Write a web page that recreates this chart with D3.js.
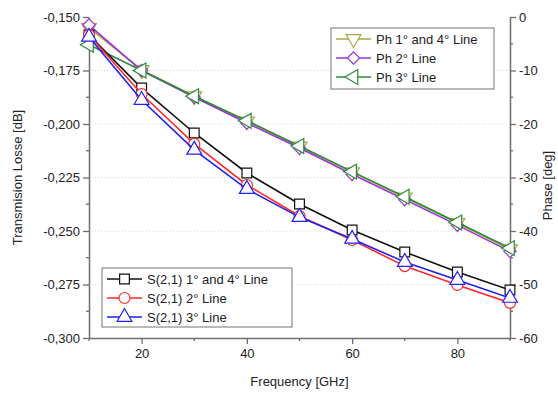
<!DOCTYPE html>
<html>
<head>
<meta charset="utf-8">
<script src="https://cdn.jsdelivr.net/npm/d3@7"></script>
<style>
  body { margin: 0; background: #fff; }
  text { font-family: "Liberation Sans", Arial, sans-serif; }
</style>
</head>
<body>
<div id="chart"></div>
<script>
// frequency points [GHz]
const freq = [10, 20, 30, 40, 50, 60, 70, 80, 90];

// transmission loss [dB]
const s21Line14 = [-0.1584, -0.1832, -0.2042, -0.2229, -0.2374, -0.2495, -0.2598, -0.2692, -0.2776];
const s21Line2  = [-0.1584, -0.1860, -0.2093, -0.2285, -0.2430, -0.2542, -0.2664, -0.2752, -0.2836];
const s21Line3  = [-0.1593, -0.1888, -0.2121, -0.2304, -0.2435, -0.2537, -0.2645, -0.2729, -0.2813];

// phase [deg]
const phLine14 = [-2.0, -9.9, -14.8, -19.5, -24.2, -29.0, -33.7, -38.5, -43.4];
const phLine2  = [-1.5, -10.0, -15.0, -19.8, -24.5, -29.4, -34.1, -38.9, -43.8];
const phLine3  = [-5.2, -10.0, -14.8, -19.4, -24.1, -28.9, -33.6, -38.4, -43.2];

const xTicks = [20, 40, 60, 80];
const xMinor = [10, 30, 50, 70, 90];
const yLeftTicks = [-0.150, -0.175, -0.200, -0.225, -0.250, -0.275, -0.300];
const yLeftMinor = [-0.1625, -0.1875, -0.2125, -0.2375, -0.2625, -0.2875];
const yRightTicks = [0, -10, -20, -30, -40, -50, -60];
const yRightMinor = [-5, -15, -25, -35, -45, -55];

const W = 558, H = 393;
const margin = { top: 17, right: 48, bottom: 55, left: 89 };
const width = W - margin.left - margin.right;
const height = H - margin.top - margin.bottom;

const svg = d3.select('#chart').append('svg')
  .attr('width', W)
  .attr('height', H);

const x = d3.scaleLinear().domain([10, 90]).range([0, width]);
const yL = d3.scaleLinear().domain([-0.300, -0.150]).range([height, 0]);
const yR = d3.scaleLinear().domain([-60, 0]).range([height, 0]);

const g = svg.append('g')
  .attr('transform', `translate(${margin.left},${margin.top})`);

// faint dotted gridlines
g.append('g')
  .selectAll('line')
  .data(yLeftTicks.slice(1, -1))
  .enter().append('line')
  .attr('x1', 0).attr('x2', width)
  .attr('y1', d => yL(d)).attr('y2', d => yL(d))
  .attr('stroke', '#d8d8d8')
  .attr('stroke-width', 1)
  .attr('stroke-dasharray', '1,2');

const fmtL = v => d3.format('.3f')(v).replace('.', ',').replace('−', '-');
const axisColor = '#6e6e6e';

function styleAxis(sel) {
  sel.select('.domain').attr('stroke', axisColor).attr('stroke-width', 1.5);
  sel.selectAll('.tick line').attr('stroke', axisColor).attr('stroke-width', 1.3);
  sel.selectAll('.tick text').attr('fill', '#222').style('font-size', '13px')
    .style('font-family', '"Liberation Sans", Arial, sans-serif');
}

// x axis
const xAxisG = g.append('g')
  .attr('transform', `translate(0,${height})`)
  .call(d3.axisBottom(x).tickValues(xTicks).tickSize(6).tickPadding(5).tickSizeOuter(0));
styleAxis(xAxisG);
xAxisG.selectAll('.minor').data(xMinor).enter().append('line')
  .attr('class', 'minor')
  .attr('x1', d => x(d)).attr('x2', d => x(d))
  .attr('y1', 0).attr('y2', 3)
  .attr('stroke', axisColor).attr('stroke-width', 1.3);

// left axis
const yLAxisG = g.append('g')
  .call(d3.axisLeft(yL).tickValues(yLeftTicks).tickFormat(fmtL).tickSize(6).tickPadding(3).tickSizeOuter(0));
styleAxis(yLAxisG);
yLAxisG.selectAll('.minor').data(yLeftMinor).enter().append('line')
  .attr('class', 'minor')
  .attr('x1', -3).attr('x2', 0)
  .attr('y1', d => yL(d)).attr('y2', d => yL(d))
  .attr('stroke', axisColor).attr('stroke-width', 1.3);

// right axis
const yRAxisG = g.append('g')
  .attr('transform', `translate(${width},0)`)
  .call(d3.axisRight(yR).tickValues(yRightTicks).tickFormat(d3.format('d')).tickSize(6).tickPadding(3).tickSizeOuter(0));
styleAxis(yRAxisG);
yRAxisG.selectAll('.tick text').text(d => d3.format('d')(d).replace('−', '-'));
yRAxisG.selectAll('.minor').data(yRightMinor).enter().append('line')
  .attr('class', 'minor')
  .attr('x1', 0).attr('x2', 3)
  .attr('y1', d => yR(d)).attr('y2', d => yR(d))
  .attr('stroke', axisColor).attr('stroke-width', 1.3);

// marker shapes
const shapes = {
  square: d3.symbolSquare,
  circle: d3.symbolCircle,
  triUp: d3.symbolTriangle
};

function markerPath(type, size) {
  if (type === 'triDown' || type === 'triLeft') {
    return d3.symbol().type(d3.symbolTriangle).size(size)();
  }
  if (type === 'diamond') {
    return d3.symbol().type(d3.symbolSquare).size(size * 0.8)();
  }
  return d3.symbol().type(shapes[type]).size(size)();
}

function markerRotate(type) {
  if (type === 'triDown') return 180;
  if (type === 'triLeft') return -90;
  if (type === 'diamond') return 45;
  return 0;
}

const phaseSeries = [
  { name: 'Ph 1° and 4° Line', values: phLine14, color: '#aaa545', marker: 'triDown' },
  { name: 'Ph 2° Line', values: phLine2, color: '#9b35d8', marker: 'diamond' },
  { name: 'Ph 3° Line', values: phLine3, color: '#2f8a3c', marker: 'triLeft' }
];
const s21Series = [
  { name: 'S(2,1) 1° and 4° Line', values: s21Line14, color: '#111111', marker: 'square' },
  { name: 'S(2,1) 2° Line', values: s21Line2, color: '#ff2a2a', marker: 'circle' },
  { name: 'S(2,1) 3° Line', values: s21Line3, color: '#2020f0', marker: 'triUp' }
];

function drawSeries(s, yScale) {
  const pts = freq.map((f, i) => ({ f, v: s.values[i] }));
  const line = d3.line().x(d => x(d.f)).y(d => yScale(d.v));
  g.append('path')
    .datum(pts)
    .attr('fill', 'none')
    .attr('stroke', s.color)
    .attr('stroke-width', 1.6)
    .attr('d', line);
  g.append('g').selectAll('path')
    .data(pts)
    .enter().append('path')
    .attr('d', markerPath(s.marker, 95))
    .attr('transform', d => `translate(${x(d.f)},${yScale(d.v)}) rotate(${markerRotate(s.marker)})`)
    .attr('fill', '#fff')
    .attr('stroke', s.color)
    .attr('stroke-width', 1.2);
}

phaseSeries.forEach(s => drawSeries(s, yR));
s21Series.forEach(s => drawSeries(s, yL));

// legends
function drawLegend(series, lx, ly, w, h) {
  const lg = svg.append('g').attr('transform', `translate(${lx},${ly})`);
  lg.append('rect')
    .attr('width', w).attr('height', h)
    .attr('fill', '#fff')
    .attr('stroke', '#8a8a8a')
    .attr('stroke-width', 1.2);
  series.forEach((s, i) => {
    const cy = 11 + i * 19;
    lg.append('line')
      .attr('x1', 5).attr('x2', 40)
      .attr('y1', cy).attr('y2', cy)
      .attr('stroke', s.color).attr('stroke-width', 1.6);
    lg.append('path')
      .attr('d', markerPath(s.marker, 95))
      .attr('transform', `translate(22.5,${cy}) rotate(${markerRotate(s.marker)})`)
      .attr('fill', '#fff')
      .attr('stroke', s.color)
      .attr('stroke-width', 1.2);
    lg.append('text')
      .attr('x', 45).attr('y', cy + 5)
      .style('font-size', '13px')
      .attr('fill', '#222')
      .text(s.name);
  });
}

drawLegend(phaseSeries, 331, 28, 163, 61);
drawLegend(s21Series, 102, 268, 190, 59);

// axis titles
svg.append('text')
  .attr('transform', `translate(22,${margin.top + height / 2}) rotate(-90)`)
  .attr('text-anchor', 'middle')
  .style('font-size', '13px')
  .attr('fill', '#222')
  .text('Transmision Losse [dB]');

svg.append('text')
  .attr('transform', `translate(552,${margin.top + height / 2 + 8}) rotate(-90)`)
  .attr('text-anchor', 'middle')
  .style('font-size', '13px')
  .attr('fill', '#222')
  .text('Phase [deg]');

svg.append('text')
  .attr('x', margin.left + width / 2)
  .attr('y', 386)
  .attr('text-anchor', 'middle')
  .style('font-size', '13px')
  .attr('fill', '#222')
  .text('Frequency [GHz]');
</script>
</body>
</html>
